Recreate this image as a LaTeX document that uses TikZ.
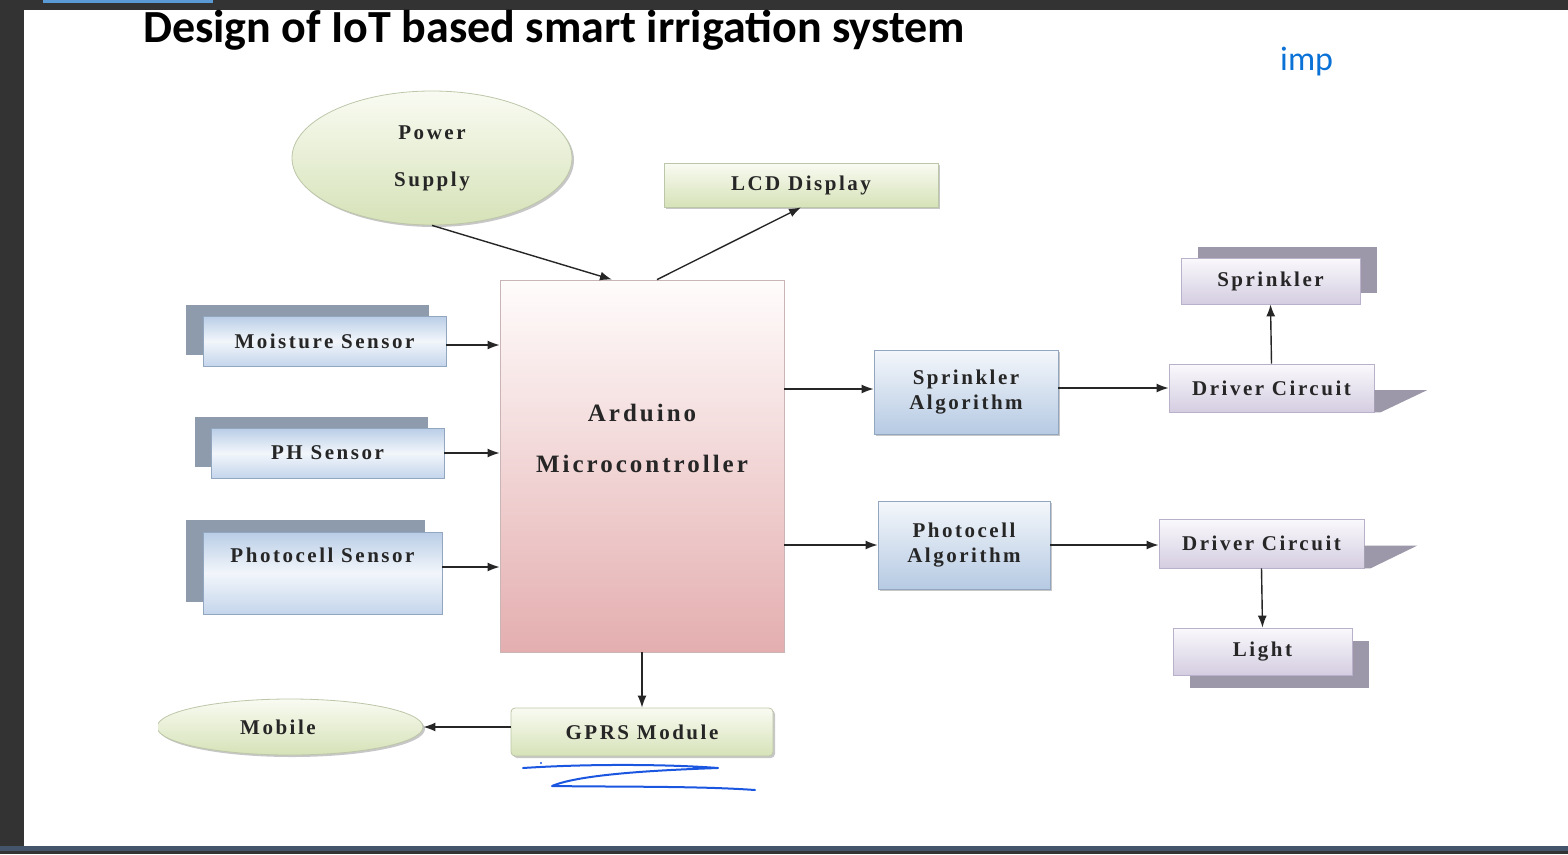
\documentclass[tikz,border=0pt]{standalone}
\usepackage{fontspec}
\setmainfont{Liberation Serif}
\newfontfamily\titlefont{Carlito}
\newfontfamily\boxfont[LetterSpace=12]{Liberation Serif}
\usetikzlibrary{positioning,arrows.meta,shadows,shapes.geometric}

\definecolor{winbar}{HTML}{333333}
\definecolor{tabblue}{HTML}{5B9BD5}
\definecolor{statusbar}{HTML}{44546A}
\definecolor{impblue}{HTML}{0A72D6}
\definecolor{inkblue}{HTML}{1A56E0}
\definecolor{greentop}{HTML}{F9FBF2}
\definecolor{greenbot}{HTML}{D6E2B8}
\definecolor{greenline}{HTML}{BCC6A8}
\definecolor{bluetop}{HTML}{F4F7FB}
\definecolor{bluebot}{HTML}{B6CAE3}
\definecolor{blueline}{HTML}{93A6C0}
\definecolor{sensortop}{HTML}{B9CDE6}
\definecolor{sensormid}{HTML}{F2F6FB}
\definecolor{sensorbot}{HTML}{C4D5EB}
\definecolor{sensorshade}{HTML}{8E9BAC}
\definecolor{purpletop}{HTML}{FAF9FC}
\definecolor{purplebot}{HTML}{D4CDE1}
\definecolor{purpleline}{HTML}{B9B1C9}
\definecolor{purpleshade}{HTML}{9C97A9}
\definecolor{pinktop}{HTML}{FFFCFC}
\definecolor{pinkbot}{HTML}{E4AEAF}
\definecolor{pinkline}{HTML}{C9B5B5}

\tikzset{
  box/.style={draw, line width=0.8pt, inner sep=0pt, align=center,
    text=black!85, font=\boxfont\bfseries\fontsize{21}{25}\selectfont},
  greenbox/.style={box, draw=greenline, top color=greentop, bottom color=greenbot,
    general shadow={fill=black!22, shadow xshift=2pt, shadow yshift=-2pt}},
  oval/.style={greenbox, ellipse},
  sensor/.style={box, draw=blueline, top color=sensortop, bottom color=sensorbot,
    middle color=sensormid},
  algo/.style={box, draw=blueline, top color=bluetop, bottom color=bluebot,
    general shadow={fill=black!22, shadow xshift=2pt, shadow yshift=-2pt}},
  device/.style={box, draw=purpleline, top color=purpletop, bottom color=purplebot},
  wedge/.style={fill=purpleshade},
  link/.style={-{Latex[length=12pt,width=9pt]}, line width=1.4pt, black!85},
  scribble/.style={inkblue, line width=2pt, line cap=round, line join=round}
}

\begin{document}
\begin{tikzpicture}[x=1pt,y=-1pt]
  \useasboundingbox (0,0) rectangle (1568,854);
  % window frame
  \fill[winbar] (0,0) rectangle (1568,10);
  \fill[winbar] (0,0) rectangle (24,854);
  \fill[tabblue] (43,0) rectangle (213,3);
  \fill[statusbar] (0,846) rectangle (1568,851);
  \fill[winbar] (0,851) rectangle (1568,854);

  % headings
  \node[anchor=base west, inner sep=0pt, font=\titlefont\bfseries\fontsize{46}{48}\selectfont] (title) at (143,42) {Design of IoT based smart irrigation system};
  \node[anchor=base west, inner sep=0pt, text=impblue, font=\titlefont\fontsize{34}{36}\selectfont] (imp) at (1280,70) {imp};

  % inputs
  \node[oval, minimum width=280pt, minimum height=134pt] (power) at (432,158) {Power\\[22pt]Supply};
  \node[greenbox, minimum width=274pt, minimum height=44pt] (lcd) at (801,185) {LCD Display};
  \node[box, draw=pinkline, top color=pinktop, bottom color=pinkbot, minimum width=284pt, minimum height=372pt,
    label={[font=\boxfont\bfseries\fontsize{25}{29}\selectfont, align=center, text=black!85, anchor=center, yshift=28pt]center:Arduino\\[22pt]Microcontroller}] (ard) at (642,466) {};

  \node[sensor, minimum width=243pt, minimum height=50pt,
    general shadow={fill=sensorshade, shadow xshift=-17pt, shadow yshift=11pt}] (moist) at (324.5,341) {Moisture Sensor};
  \node[sensor, minimum width=233pt, minimum height=50pt,
    general shadow={fill=sensorshade, shadow xshift=-16pt, shadow yshift=11pt}] (ph) at (327.5,453) {PH Sensor};
  \node[sensor, minimum width=239pt, minimum height=82pt,
    general shadow={fill=sensorshade, shadow xshift=-17pt, shadow yshift=12pt},
    label={[anchor=north, yshift=-13pt, font=\boxfont\bfseries\fontsize{21}{25}\selectfont, text=black!85]north:Photocell Sensor}] (photo) at (322.5,573) {};

  % algorithms and outputs
  \node[algo, minimum width=184pt, minimum height=84pt] (salg) at (966,392) {Sprinkler\\Algorithm};
  \node[algo, minimum width=172pt, minimum height=88pt] (palg) at (964,545) {Photocell\\Algorithm};

  \node[device, minimum width=205pt, minimum height=48pt] (drv1) at (1271.5,388) {Driver Circuit};
  \node[device, minimum width=179pt, minimum height=46pt,
    general shadow={fill=purpleshade, shadow xshift=17pt, shadow yshift=11pt}] (spr) at (1270.5,281) {Sprinkler};
  \node[device, minimum width=205pt, minimum height=49pt] (drv2) at (1261.5,543.5) {Driver Circuit};
  \node[device, minimum width=179pt, minimum height=47pt,
    general shadow={fill=purpleshade, shadow xshift=17pt, shadow yshift=-13pt}] (light) at (1262.5,651.5) {Light};

  \fill[wedge] ([yshift=-2pt]drv1.east) -- ++(53,0) -- ([xshift=6pt]drv1.south east) -- (drv1.south east) -- cycle;
  \fill[wedge] ([yshift=-2pt]drv2.east) -- ++(53,0) -- ([xshift=6pt]drv2.south east) -- (drv2.south east) -- cycle;

  \node[greenbox, rounded corners=4pt, minimum width=262pt, minimum height=48pt] (gprs) at (642,732) {GPRS Module};
  \begin{scope}
    \clip (158,0) rectangle (1568,854);
    \node[oval, minimum width=266pt, minimum height=56pt] (mobile) at (290,727) {\hspace*{-24pt}Mobile};
  \end{scope}

  % connectors
  \draw[link] (power.south) -- ([xshift=-30pt]ard.north);
  \draw[link] ([xshift=15pt]ard.north) -- (lcd.south);
  \draw[link] ([yshift=-4pt]moist.east) -- ([yshift=-4pt]moist.east -| ard.west);
  \draw[link] (ph.east) -- (ph.east -| ard.west);
  \draw[link] ([yshift=6pt]photo.east) -- ([yshift=6pt]photo.east -| ard.west);
  \draw[link] (salg.west -| ard.east) ++(0,-3) -- ([yshift=3pt]salg.west);
  \draw[link] (palg.west -| ard.east) -- (palg.west);
  \draw[link] (salg.east |- drv1.west) -- (drv1.west);
  \draw[link] (drv1.north) -- (spr.south);
  \draw[link] (palg.east) -- (palg.east -| drv2.west);
  \draw[link] (drv2.south) -- (light.north);
  \draw[link] (ard.south) -- (gprs.north);
  \draw[link] (gprs.west |- mobile.east) -- (mobile.east);

  % pen mark under the module
  \fill[inkblue] (541,763) circle (1.2pt);
  \draw[scribble] (523,768) .. controls (600,763) and (680,765) .. (718,768)
    .. controls (660,770) and (580,774) .. (552,786)
    .. controls (620,787) and (700,786) .. (755,790);
\end{tikzpicture}
\end{document}
